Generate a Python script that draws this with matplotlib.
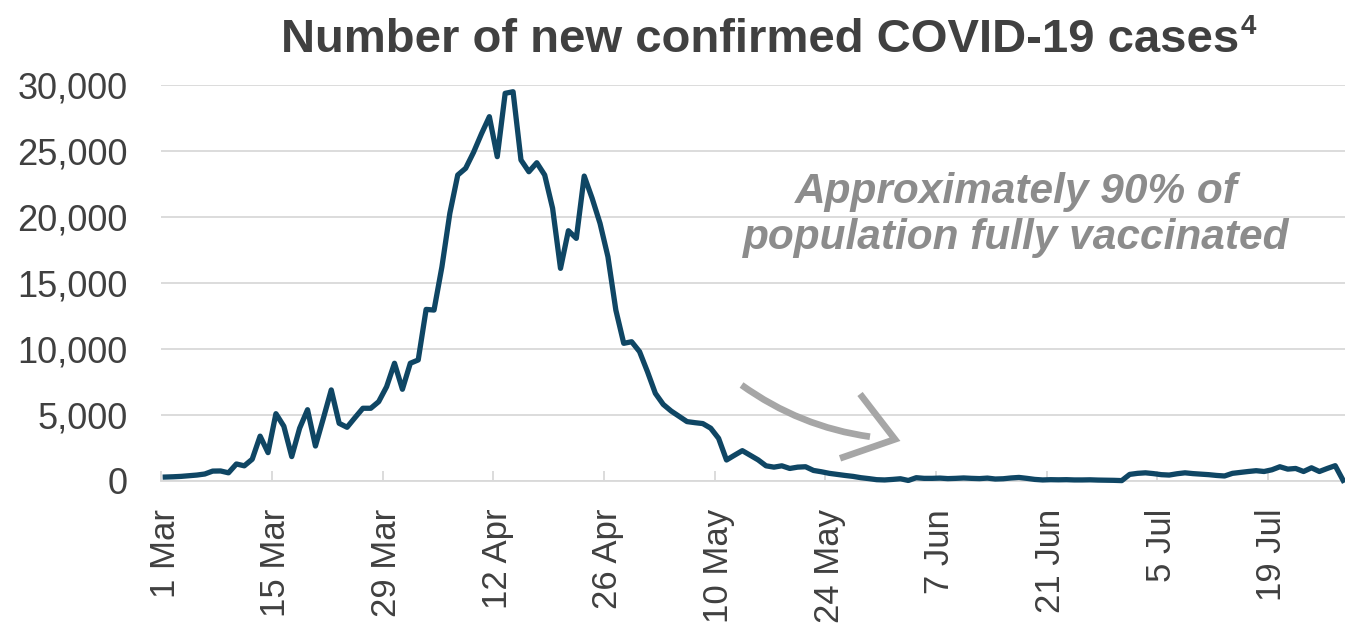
import matplotlib.pyplot as plt
import numpy as np
from matplotlib.path import Path
from matplotlib.patches import PathPatch
from matplotlib.ticker import FuncFormatter

# daily new confirmed cases, 1 Mar onwards
cases = [
    300, 320, 350, 400, 450, 530, 750, 760, 620, 1290,
    1150, 1650, 3400, 2150, 5100, 4150, 1850, 4000, 5400, 2650,
    4750, 6900, 4370, 4070, 4800, 5510, 5510, 6010, 7140, 8920,
    6950, 8920, 9170, 13000, 12950, 16230, 20280, 23180, 23690, 24900,
    26300, 27600, 24570, 29370, 29490, 24320, 23430, 24110, 23180, 20660,
    16110, 18960, 18380, 23100, 21420, 19520, 16990, 12950, 10430, 10550,
    9800, 8280, 6640, 5800, 5300, 4900, 4500, 4420, 4350, 4000,
    3230, 1590, 1950, 2300, 1950, 1600, 1150, 1050, 1150, 950,
    1050, 1080, 800, 700, 580, 500, 420, 350, 250, 180,
    100, 80, 120, 170, 40, 250, 200, 200, 220, 180,
    200, 230, 200, 180, 220, 150, 170, 230, 270, 200,
    120, 80, 100, 90, 100, 80, 80, 90, 70, 60,
    50, 30, 500, 580, 620, 560, 480, 450, 550, 620,
    560, 520, 480, 420, 380, 580, 650, 720, 780, 720,
    850, 1080, 900, 950, 720, 1000, 720, 950, 1160, 50,
]
tick_labels = ['1 Mar', '15 Mar', '29 Mar', '12 Apr', '26 Apr', '10 May',
               '24 May', '7 Jun', '21 Jun', '5 Jul', '19 Jul']
tick_step = 14
y_ticks = [0, 5000, 10000, 15000, 20000, 25000, 30000]

plt.rcParams['font.family'] = ['Liberation Sans', 'DejaVu Sans']

W, H = 1345, 626
fig = plt.figure(figsize=(W / 100, H / 100), dpi=100)
ax = fig.add_axes([161.3 / W, 1 - 481 / H, (W - 161.3) / W, 396 / H])

days = np.arange(len(cases))
ax.plot(days, cases, color='#0f4664', lw=3.8, solid_joinstyle='round',
        clip_on=False, zorder=3)

ax.set_xlim(-0.5, 149.24)
ax.set_ylim(0, 30000)

grey = '#d9d9d9'
text_col = '#404040'
for side in ['left', 'right', 'top']:
    ax.spines[side].set_visible(False)
ax.spines['bottom'].set_color(grey)
ax.spines['bottom'].set_linewidth(1.3)

ax.set_yticks(y_ticks)
ax.yaxis.set_major_formatter(FuncFormatter(lambda v, p: f'{int(v):,}'))
ax.yaxis.grid(True, color=grey, lw=1.3)
ax.set_axisbelow(True)
ax.tick_params(axis='y', length=0, pad=24, labelsize=26, labelcolor=text_col)

label_pos = np.arange(len(tick_labels)) * tick_step
ax.set_xticks(label_pos, tick_labels, rotation=90)
ax.set_xticks(np.arange(0, len(cases), tick_step) - 0.5, minor=True)
ax.tick_params(axis='x', which='major', length=0, pad=20, labelsize=25,
               labelcolor=text_col)
ax.tick_params(axis='x', which='minor', direction='in', length=7,
               width=1.3, color=grey)

# title with superscript footnote marker
title = fig.text(0.565, 1 - 52 / H, 'Number of new confirmed COVID-19 cases',
                 ha='center', va='baseline', fontsize=34, fontweight='bold',
                 color=text_col)
fig.canvas.draw()
bb = title.get_window_extent()
fig.text((bb.x1 + 2) / W, 1 - 34 / H, '4', ha='left', va='baseline',
         fontsize=20, fontweight='bold', color=text_col)

# vaccination note and curved arrow
note_col = '#8c8c8c'
ax.text(0.722, 0.672, 'Approximately 90% of\npopulation fully vaccinated',
        transform=ax.transAxes, ha='center', va='center', ma='center',
        fontsize=30.5, fontweight='bold', fontstyle='italic',
        color=note_col, linespacing=1.2)

arrow_col = '#a6a6a6'
shaft = Path([(0.4902, 0.2424), (0.5396, 0.1364), (0.5987, 0.1119)],
             [Path.MOVETO, Path.CURVE3, Path.CURVE3])
ax.add_patch(PathPatch(shaft, transform=ax.transAxes, fill=False,
                       ec=arrow_col, lw=4.8, capstyle='butt', clip_on=False))
head = Path([(0.5903, 0.2197), (0.6198, 0.1053), (0.5734, 0.0573)],
            [Path.MOVETO, Path.LINETO, Path.LINETO])
ax.add_patch(PathPatch(head, transform=ax.transAxes, fill=False,
                       ec=arrow_col, lw=4.8, capstyle='butt',
                       joinstyle='miter', clip_on=False))

fig.savefig('out.png', dpi=100)
